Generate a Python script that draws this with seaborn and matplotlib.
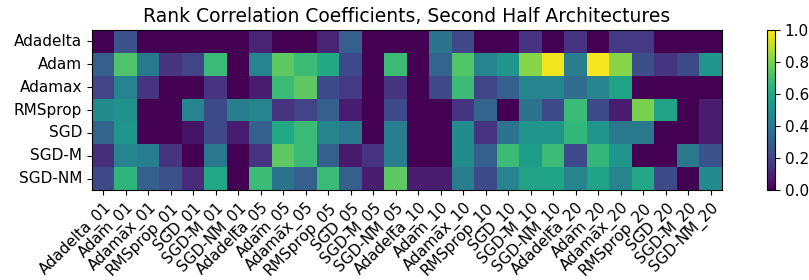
import numpy as np
import pandas as pd
import matplotlib

matplotlib.use("Agg")
import matplotlib.pyplot as plt
import seaborn as sns

# optimizers (rows) and optimizer_checkpoint combos (columns)
optimizers = ["Adadelta", "Adam", "Adamax", "RMSprop", "SGD", "SGD-M", "SGD-NM"]
checkpoints = ["01", "05", "10", "20"]
columns = [f"{opt}_{cp}" for cp in checkpoints for opt in optimizers]

# rank correlation values read row by row
adadelta = [0.0, 0.25, 0.0, 0.0, 0.0, 0.0, 0.0, 0.1, 0.0, 0.0, 0.1, 0.3, 0.0, 0.0,
            0.0, 0.38, 0.22, 0.0, 0.0, 0.15, 0.0, 0.15, 0.0, 0.17, 0.17, 0.0, 0.0, 0.0]
adam = [0.3, 0.72, 0.4, 0.15, 0.2, 0.68, 0.0, 0.45, 0.75, 0.68, 0.6, 0.22, 0.0, 0.68,
        0.0, 0.32, 0.73, 0.45, 0.52, 0.82, 0.98, 0.42, 0.99, 0.82, 0.24, 0.15, 0.22, 0.52]
adamax = [0.2, 0.45, 0.15, 0.0, 0.0, 0.15, 0.0, 0.08, 0.68, 0.75, 0.22, 0.17, 0.0, 0.15,
          0.0, 0.22, 0.68, 0.2, 0.3, 0.45, 0.45, 0.35, 0.45, 0.58, 0.0, 0.0, 0.0, 0.0]
rmsprop = [0.48, 0.5, 0.0, 0.0, 0.45, 0.22, 0.42, 0.45, 0.15, 0.2, 0.3, 0.08, 0.0, 0.22,
           0.0, 0.0, 0.15, 0.32, 0.0, 0.38, 0.22, 0.68, 0.22, 0.08, 0.8, 0.58, 0.0, 0.08]
sgd = [0.32, 0.52, 0.0, 0.0, 0.05, 0.22, 0.08, 0.3, 0.6, 0.68, 0.45, 0.4, 0.0, 0.42,
       0.0, 0.0, 0.48, 0.15, 0.38, 0.52, 0.52, 0.66, 0.52, 0.4, 0.4, 0.0, 0.0, 0.08]
sgd_m = [0.13, 0.45, 0.42, 0.15, 0.0, 0.4, 0.0, 0.15, 0.75, 0.68, 0.3, 0.07, 0.15, 0.42,
         0.0, 0.0, 0.48, 0.3, 0.68, 0.55, 0.68, 0.22, 0.66, 0.52, 0.0, 0.0, 0.4, 0.25]
sgd_nm = [0.22, 0.65, 0.3, 0.25, 0.12, 0.6, 0.0, 0.68, 0.38, 0.3, 0.68, 0.3, 0.08, 0.75,
          0.08, 0.08, 0.42, 0.22, 0.45, 0.58, 0.58, 0.45, 0.58, 0.45, 0.6, 0.22, 0.0, 0.48]

df = pd.DataFrame(
    [adadelta, adam, adamax, rmsprop, sgd, sgd_m, sgd_nm],
    index=optimizers,
    columns=columns,
)

fig = plt.figure(figsize=(8.09, 2.8), dpi=100)
ax = fig.add_axes([0.1137, 0.3214, 0.7787, 0.5714])
cax = fig.add_axes([0.948, 0.3214, 0.0099, 0.5714])

sns.heatmap(df, ax=ax, cbar_ax=cax, cmap="viridis", vmin=0, vmax=1)

# keep the frame around the heatmap and colorbar
for spine in ax.spines.values():
    spine.set_visible(True)
    spine.set_linewidth(0.8)
cb = ax.collections[0].colorbar
cb.outline.set_visible(True)
cb.outline.set_linewidth(0.8)
cb.set_ticks([0.0, 0.2, 0.4, 0.6, 0.8, 1.0])
cb.ax.tick_params(labelsize=11)

ax.set_xticklabels(columns, rotation=45, ha="right", rotation_mode="anchor", fontsize=11)
ax.set_yticklabels(optimizers, rotation=0, fontsize=11)
ax.set_xlabel("")
ax.set_ylabel("")
ax.set_title("Rank Correlation Coefficients, Second Half Architectures", fontsize=13.5)

fig.savefig("out.png", dpi=100)
